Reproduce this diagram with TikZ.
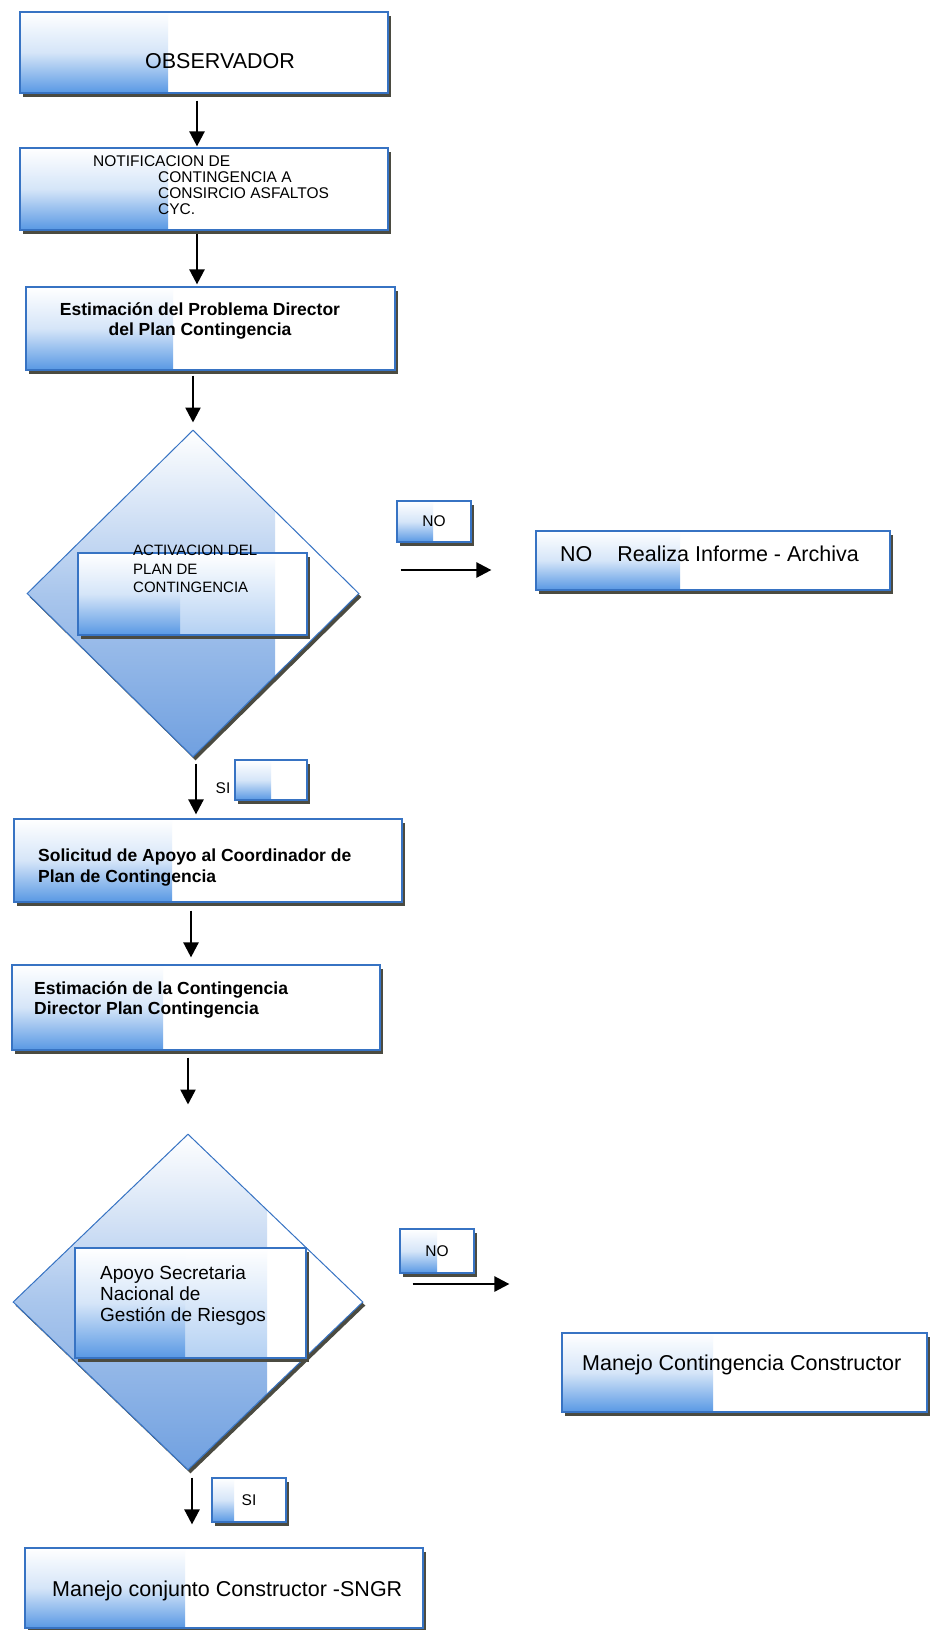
\documentclass[tikz,border=0pt]{standalone}
\usepackage{fontspec}
\setmainfont{Liberation Sans}
\usetikzlibrary{arrows.meta,shapes.geometric,shadows}
\definecolor{azul}{RGB}{88,152,228}
\definecolor{azulrombo}{RGB}{112,160,224}
\definecolor{borde}{RGB}{55,115,195}
\definecolor{sombra}{RGB}{75,75,65}
\tikzset{
  sombreado/.style={drop shadow={shadow xshift=2.5pt,shadow yshift=-3.5pt,fill=sombra,opacity=1}},
  caja/.style={rectangle,draw=borde,line width=1.2pt,fill=white,inner sep=0pt,sombreado,
    path picture={\shade[top color=white,bottom color=azul,middle color=azul!25]
      (path picture bounding box.south west) rectangle ([xshift=#1]path picture bounding box.north west);}},
  interior/.style 2 args={rectangle,draw=borde,line width=1.2pt,fill=white,inner sep=0pt,sombreado,
    path picture={\shade[top color=white,bottom color=azul!45]
      ([xshift=#1]path picture bounding box.south west) rectangle ([xshift=#2]path picture bounding box.north west);
      \shade[top color=white,bottom color=azul,middle color=azul!25]
      (path picture bounding box.south west) rectangle ([xshift=#1]path picture bounding box.north west);}},
  rombo/.style={diamond,draw=borde,line width=1pt,fill=white,inner sep=0pt,sombreado,
    path picture={\shade[top color=white,bottom color=azulrombo,middle color=azulrombo!60]
      (path picture bounding box.south west) rectangle ([xshift=#1]path picture bounding box.north west);}},
  flecha/.style={-{Triangle[width=15pt,length=15pt]},line width=2.5pt},
  grande/.style={inner sep=0pt,font=\fontsize{21.5}{24}\selectfont},
  negrita/.style={inner sep=0pt,align=left,font=\bfseries\fontsize{17.5}{20.5}\selectfont},
  chico/.style={font=\fontsize{15.5}{18}\selectfont}
}
\begin{document}
\begin{tikzpicture}[x=1pt,y=-1pt]
  \useasboundingbox[fill=white] (0,0) rectangle (929,1630);
  % cajas
  \node[caja=148pt,minimum width=368pt,minimum height=81pt] (obs) at (204,52.5) {};
  \node[caja=148pt,minimum width=368pt,minimum height=82pt] (notif) at (204,189) {};
  \node[caja=147pt,minimum width=369pt,minimum height=83pt] (est1) at (210.5,328.5) {};
  \node[rombo=248pt,minimum width=332pt,minimum height=327pt] (act) at (193,593.5) {};
  \node[interior={102pt}{197pt},minimum width=229pt,minimum height=82pt] (actbox) at (192.5,594) {};
  \node[caja=36pt,minimum width=74pt,minimum height=41pt,chico] (no1) at (434,521.5) {NO};
  \node[caja=144pt,minimum width=354pt,minimum height=59pt] (informe) at (713,560.5) {};
  \node[caja=36pt,minimum width=72pt,minimum height=40pt] (si1) at (271,780) {};
  \node[caja=158pt,minimum width=388pt,minimum height=83pt] (solic) at (208,860.5) {};
  \node[caja=151pt,minimum width=368pt,minimum height=85pt] (est2) at (196,1007.5) {};
  \node[rombo=254pt,minimum width=350pt,minimum height=336pt] (apoyo) at (188,1302) {};
  \node[interior={110pt}{192pt},minimum width=231pt,minimum height=110pt] (apoyobox) at (190.5,1303) {};
  \node[caja=37pt,minimum width=74pt,minimum height=44pt,chico] (no2) at (437,1251) {NO};
  \node[caja=151pt,minimum width=365pt,minimum height=79pt] (constr) at (744.5,1372.5) {};
  \node[caja=22pt,minimum width=74pt,minimum height=44pt,chico] (si2) at (249,1500) {SI};
  \node[caja=160pt,minimum width=398pt,minimum height=80pt] (conj) at (224,1588) {};
  % textos
  \node[grande] (tobs) at (220,61) {OBSERVADOR};
  \node[inner sep=0pt,anchor=north west,align=left,font=\fontsize{15.5}{16.3}\selectfont] (tnotif) at (158,155)
    {\hspace*{-65pt}NOTIFICACION DE\\CONTINGENCIA A\\CONSIRCIO ASFALTOS\\CYC.};
  \node[negrita,align=center,anchor=north] (test1) at (200,302)
    {Estimación del Problema Director\\del Plan Contingencia};
  \node[inner sep=0pt,anchor=north west,align=left,font=\fontsize{15}{18.5}\selectfont] (tact) at (133,545)
    {ACTIVACION DEL\\PLAN DE\\CONTINGENCIA};
  \node[grande,anchor=west] (tinforme) at (560,554) {NO\hspace{25pt}Realiza Informe - Archiva};
  \node[chico,inner sep=0pt] (tsi1) at (223,788) {SI};
  \node[negrita,anchor=north west] (tsolic) at (38,849)
    {Solicitud de Apoyo al Coordinador de\\Plan de Contingencia};
  \node[negrita,anchor=north west] (test2) at (34,981)
    {Estimación de la Contingencia\\Director Plan Contingencia};
  \node[inner sep=0pt,anchor=north west,align=left,font=\fontsize{19}{21}\selectfont] (tapoyo) at (100,1266)
    {Apoyo Secretaria\\Nacional de\\Gestión de Riesgos};
  \node[grande,anchor=base west] (tconstr) at (582,1370) {Manejo Contingencia Constructor};
  \node[grande,anchor=base west] (tconj) at (52,1596) {Manejo conjunto Constructor -SNGR};
  % flechas
  \draw[flecha,shorten <=7pt,shorten >=1pt] ([xshift=-7pt]obs.south) -- ([xshift=-7pt]notif.north);
  \draw[flecha,shorten <=3pt,shorten >=2pt] ([xshift=-7pt]notif.south) -- ([xshift=-13.5pt]est1.north);
  \draw[flecha,shorten <=5pt,shorten >=7pt] ([xshift=-17.5pt]est1.south) -- (act.north);
  \draw[flecha,shorten <=41pt,shorten >=44pt] ([yshift=23.5pt]act.east) -- ([yshift=-9.5pt]informe.west);
  \draw[flecha,shorten <=6pt,shorten >=4pt] ([xshift=3pt]act.south) -- ([xshift=-12pt]solic.north);
  \draw[flecha,shorten <=8pt,shorten >=7pt] ([xshift=-17pt]solic.south) -- ([xshift=-5pt]est2.north);
  \draw[flecha,shorten <=7pt,shorten >=29pt] ([xshift=-8pt]est2.south) -- (apoyo.north);
  \draw[flecha,shorten <=49pt,shorten >=52pt] ([yshift=18pt]apoyo.east) -- ([yshift=88.5pt]constr.west);
  \draw[flecha,shorten <=7pt,shorten >=23pt] ([xshift=4pt]apoyo.south) -- ([xshift=-32pt]conj.north);
\end{tikzpicture}
\end{document}
